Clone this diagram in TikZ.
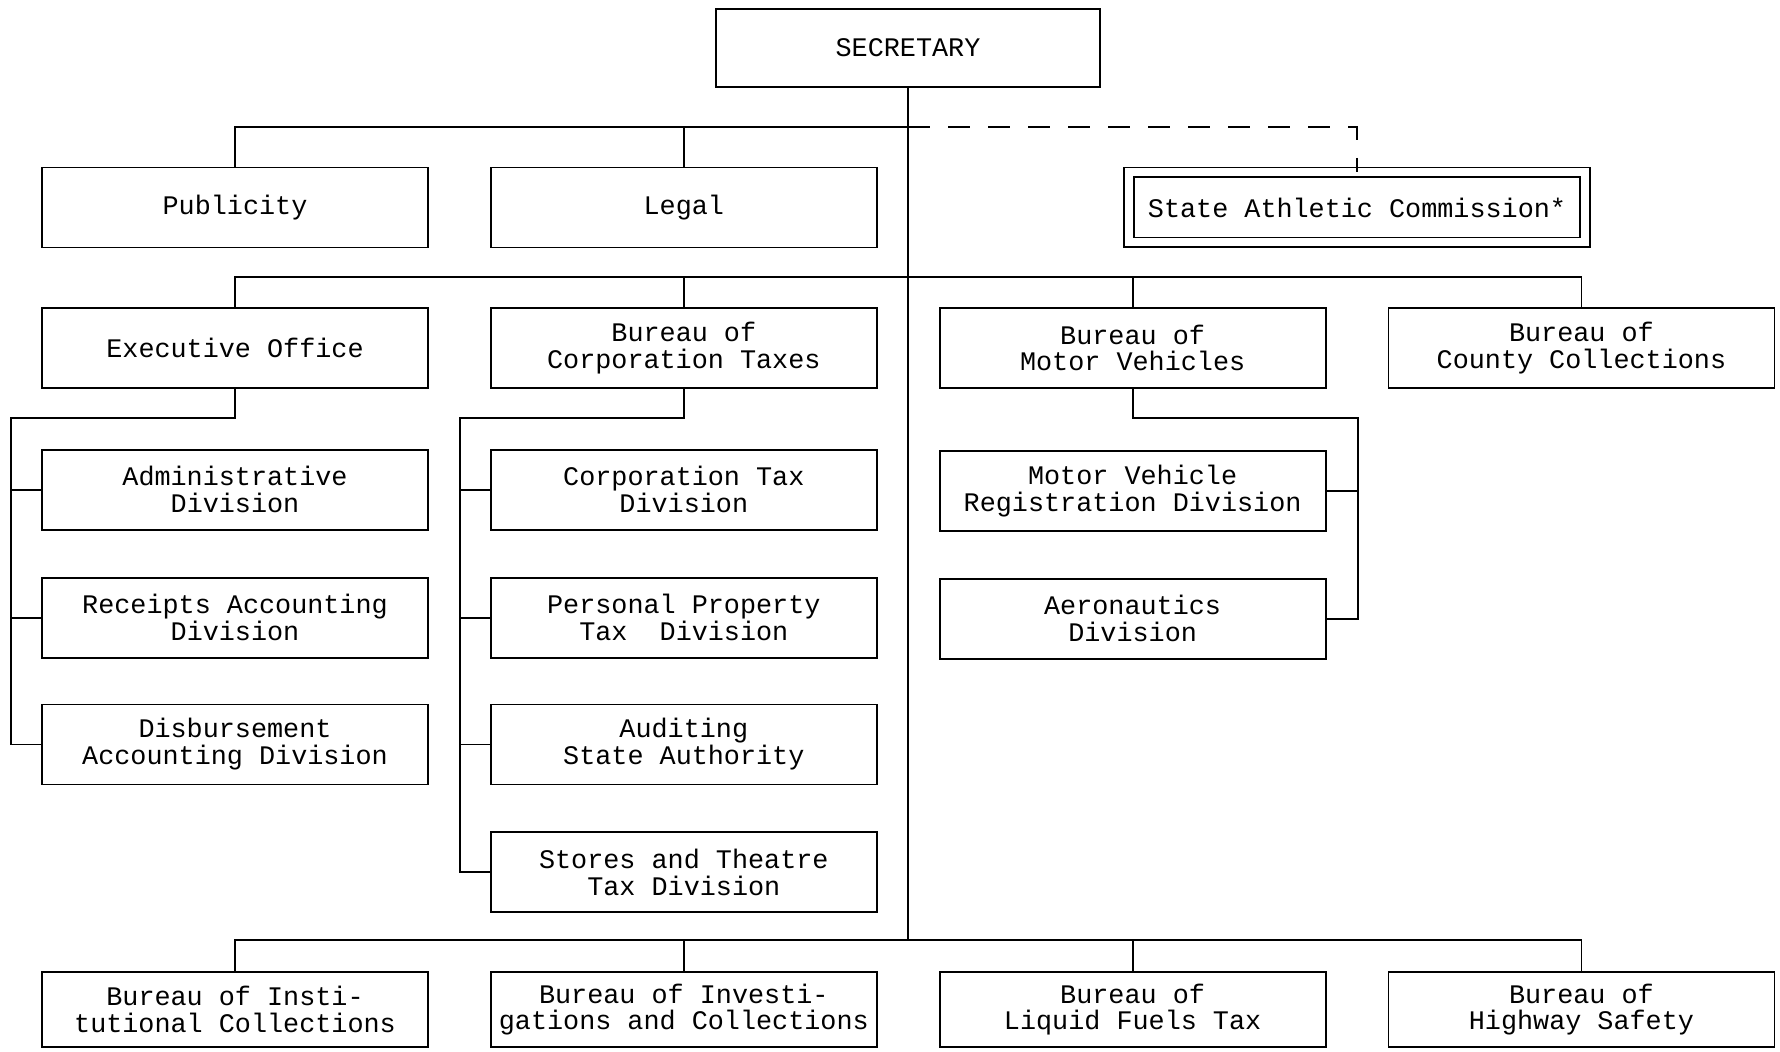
\documentclass[tikz,border=0pt]{standalone}
\usepackage{fontspec}
\setmonofont{Liberation Mono}
\usepackage{tikz}
\usetikzlibrary{positioning,calc}

\begin{document}
\begin{tikzpicture}[
    x=0.5pt, y=-0.5pt,
    font=\fontsize{13.4}{13.4}\selectfont\ttfamily,
    line width=0.9pt,
    unit/.style={draw=black, rectangle, minimum width=193pt, minimum height=40pt, inner sep=2pt, align=center},
    headbox/.style={unit, minimum width=192pt, minimum height=39pt},
    boardbox/.style={unit, double, double distance=4pt, minimum width=228pt, minimum height=35pt},
    lowbox/.style={unit, minimum height=37.5pt},
    link/.style={draw=black, line width=0.9pt},
    attached/.style={link, dash pattern=on 11pt off 9pt}
]
\useasboundingbox (0,0) rectangle (1780,1052);

\node[headbox] (secretary) at (908,48) {SECRETARY};

\node[unit] (publicity) at (235,207.5) {Publicity};
\node[unit, right=30.5pt of publicity] (legal) {Legal};
\node[boardbox] (athletic) at (1357,207.5) {State Athletic Commission*};

\node[unit] (exec) at (235,348) {Executive Office};
\node[unit, right=30.5pt of exec] (corp) {Bureau of\\Corporation Taxes};
\node[unit, right=30.5pt of corp] (motor) {Bureau of\\Motor Vehicles};
\node[unit, right=30.5pt of motor] (county) {Bureau of\\County Collections};

\node[unit, below=30pt of exec] (admin) {Administrative\\Division};
\node[unit, below=23pt of admin] (receipts) {Receipts Accounting\\Division};
\node[unit, below=22.5pt of receipts] (disburse) {Disbursement\\Accounting Division};

\node[unit, below=30pt of corp] (corptax) {Corporation Tax\\Division};
\node[unit, below=23pt of corptax] (personal) {Personal Property\\Tax\ \ Division};
\node[unit, below=22.5pt of personal] (auditing) {Auditing\\State Authority};
\node[unit, below=23pt of auditing] (stores) {Stores and Theatre\\Tax Division};

\node[unit, below=30.5pt of motor] (registration) {Motor Vehicle\\Registration Division};
\node[unit, below=23pt of registration] (aero) {Aeronautics\\Division};

\node[lowbox] (institutional) at (235,1009.5) {Bureau of Insti-\\tutional Collections};
\node[lowbox, right=30.5pt of institutional] (investigations) {Bureau of Investi-\\gations and Collections};
\node[lowbox, right=30.5pt of investigations] (fuels) {Bureau of\\Liquid Fuels Tax};
\node[lowbox, right=30.5pt of fuels] (highway) {Bureau of\\Highway Safety};

\coordinate (topbus) at (908,127);
\coordinate (midbus) at (908,277);
\coordinate (lowbus) at (908,940);
\coordinate (execrail) at (11,418);
\coordinate (corprail) at (460,418);
\coordinate (motorrail) at (1358,418);

\draw[link] (secretary) -- (lowbus);
\draw[link] (publicity.north) |- (topbus);
\draw[link] (legal.north) -- (legal.north |- topbus);
\draw[attached] (topbus) -| (athletic.north);

\draw[link] (exec.north) |- (midbus) -| (county.north);
\draw[link] (corp.north) -- (corp.north |- midbus);
\draw[link] (motor.north) -- (motor.north |- midbus);

\draw[link] (exec.south) |- (execrail) |- (disburse.west);
\draw[link] (admin.west) -- (admin.west -| execrail);
\draw[link] (receipts.west) -- (receipts.west -| execrail);

\draw[link] (corp.south) |- (corprail) |- (stores.west);
\draw[link] (corptax.west) -- (corptax.west -| corprail);
\draw[link] (personal.west) -- (personal.west -| corprail);
\draw[link] (auditing.west) -- (auditing.west -| corprail);

\draw[link] (motor.south) |- (motorrail) |- (aero.east);
\draw[link] (registration.east) -- (registration.east -| motorrail);

\draw[link] (institutional.north) |- (lowbus) -| (highway.north);
\draw[link] (investigations.north) -- (investigations.north |- lowbus);
\draw[link] (fuels.north) -- (fuels.north |- lowbus);

\end{tikzpicture}
\end{document}
